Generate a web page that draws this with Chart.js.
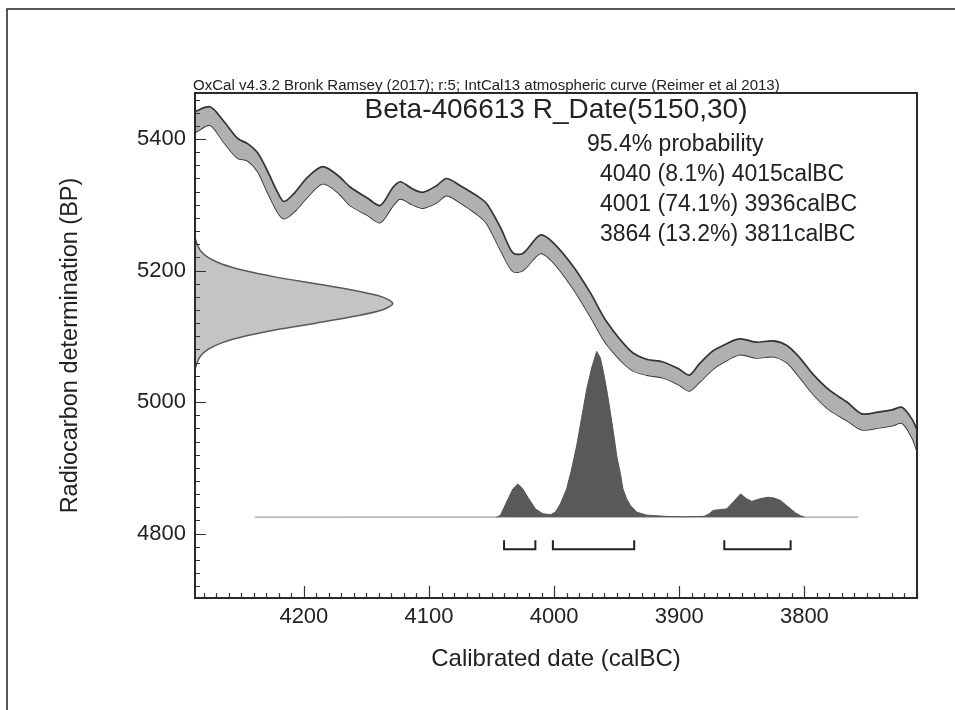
<!DOCTYPE html>
<html>
<head>
<meta charset="utf-8">
<script src="https://cdn.jsdelivr.net/npm/chart.js"></script>
<style>
  html, body { margin: 0; padding: 0; background: #fff; }
  #wrap { width: 955px; height: 710px; }
</style>
</head>
<body>
<div id="wrap"><canvas id="oxcal"></canvas></div>
<script>
// axes
const xMin = 3710, xMax = 4287;
const yMin = 4702, yMax = 5470;
const xTicks = [4200, 4100, 4000, 3900, 3800];
const yTicks = [5400, 5200, 5000, 4800];

// IntCal13 curve (calBC, BP, 1 sigma)
const curveYear = [4287, 4275, 4264, 4253, 4245, 4237, 4229, 4221, 4216, 4208, 4197, 4185, 4173, 4163, 4149, 4139, 4129, 4123, 4113, 4105, 4094, 4086, 4075, 4062, 4054, 4043, 4033, 4025, 4011, 4001, 3985, 3971, 3958, 3939, 3926, 3913, 3900, 3892, 3884, 3873, 3865, 3852, 3838, 3825, 3814, 3804, 3793, 3780, 3766, 3754, 3740, 3730, 3722, 3714, 3710];
const curveBP   = [5426, 5435, 5411, 5386, 5380, 5365, 5335, 5304, 5292, 5303, 5327, 5345, 5332, 5313, 5297, 5286, 5312, 5322, 5312, 5307, 5316, 5327, 5316, 5300, 5287, 5249, 5213, 5213, 5240, 5228, 5190, 5148, 5105, 5064, 5053, 5049, 5038, 5029, 5044, 5064, 5073, 5084, 5079, 5081, 5073, 5053, 5027, 5003, 4986, 4970, 4973, 4976, 4980, 4960, 4942];
const curveErr  = [16, 14, 16, 15, 13, 14, 16, 15, 13, 14, 15, 13, 13, 14, 13, 13, 14, 13, 12, 12, 13, 13, 13, 14, 15, 17, 14, 13, 14, 15, 17, 18, 17, 14, 12, 12, 12, 12, 14, 14, 13, 12, 12, 12, 13, 15, 15, 15, 14, 12, 12, 12, 12, 14, 16];

// R_Date(5150,30) on the y axis
const rdBP   = [5250, 5240, 5230, 5220, 5210, 5200, 5190, 5180, 5170, 5160, 5150, 5140, 5130, 5120, 5110, 5100, 5090, 5080, 5070, 5060, 5050];
const rdProb = [0, 0.011, 0.028, 0.066, 0.135, 0.25, 0.41, 0.61, 0.80, 0.946, 1, 0.946, 0.80, 0.61, 0.41, 0.25, 0.135, 0.066, 0.028, 0.011, 0];

// calibrated distribution
const calYear = [4046, 4043, 4038, 4033, 4029, 4025, 4021, 4015, 4009, 4003, 3999, 3995, 3990, 3986, 3982, 3978, 3974, 3970, 3966, 3963, 3961, 3958, 3955, 3952, 3950, 3947, 3945, 3942, 3939, 3934, 3926, 3918, 3910, 3895, 3880, 3876, 3873, 3868, 3862, 3857, 3851, 3846, 3842, 3836, 3829, 3824, 3819, 3815, 3811, 3807, 3803, 3800];
const calProb = [0, 0.01, 0.09, 0.17, 0.2, 0.17, 0.12, 0.05, 0.02, 0.015, 0.03, 0.08, 0.17, 0.29, 0.43, 0.6, 0.77, 0.9, 1, 0.96, 0.89, 0.77, 0.63, 0.48, 0.37, 0.26, 0.17, 0.11, 0.07, 0.03, 0.012, 0.008, 0.004, 0.002, 0.005, 0.02, 0.04, 0.045, 0.05, 0.09, 0.14, 0.11, 0.095, 0.11, 0.12, 0.115, 0.1, 0.075, 0.05, 0.025, 0.008, 0];

// 95.4% ranges
const rangeFrom = [4040, 4001, 3864];
const rangeTo   = [4015, 3936, 3811];
const rangePct  = [8.1, 74.1, 13.2];

// layout of the drawn curves (BP / year units)
const rdHeight = 158;
const pdfBase = 4825, pdfHeight = 252;
const pdfFrom = 4239, pdfTo = 3757;
const bracketLow = 4776, bracketHigh = 4790;

Chart.defaults.font.family = "'Liberation Sans', Arial, sans-serif";
Chart.defaults.color = '#222';

const datasets = [];

// calibration band: upper fills to lower
datasets.push({
    data: curveYear.map((c, i) => ({ x: c, y: curveBP[i] + curveErr[i] })),
    borderColor: '#333', borderWidth: 1.7, backgroundColor: '#b0b0b0',
    fill: '+1', pointRadius: 0, tension: 0.3
});
datasets.push({
    data: curveYear.map((c, i) => ({ x: c, y: curveBP[i] - curveErr[i] })),
    borderColor: '#333', borderWidth: 1.7, fill: false, pointRadius: 0, tension: 0.3
});

// radiocarbon date on the y axis
datasets.push({
    data: rdBP.map((b, i) => ({ x: xMax - rdProb[i] * rdHeight, y: b })),
    borderColor: '#5a5a5a', borderWidth: 1.5, backgroundColor: '#c4c4c4',
    fill: 'shape', pointRadius: 0, tension: 0.3
});

// calibrated distribution
datasets.push({
    data: calYear.map((c, i) => ({ x: c, y: pdfBase + calProb[i] * pdfHeight })),
    borderColor: '#555', borderWidth: 1, backgroundColor: '#595959',
    fill: { value: pdfBase }, pointRadius: 0, tension: 0
});
datasets.push({
    data: [{ x: pdfFrom, y: pdfBase }, { x: pdfTo, y: pdfBase }],
    borderColor: '#8a8a8a', borderWidth: 1, fill: false, pointRadius: 0
});

// range brackets
rangeFrom.forEach((f, i) => {
    datasets.push({
        data: [
            { x: f, y: bracketHigh }, { x: f, y: bracketLow },
            { x: rangeTo[i], y: bracketLow }, { x: rangeTo[i], y: bracketHigh }
        ],
        borderColor: '#222', borderWidth: 2, fill: false, pointRadius: 0
    });
});

// ticks inside the frame, box, outer border and texts
const oxcalDecor = {
    id: 'oxcalDecor',
    beforeDraw(chart) {
        const { ctx, width, height } = chart;
        ctx.save();
        ctx.fillStyle = '#fff';
        ctx.fillRect(0, 0, width, height);
        ctx.restore();
    },
    afterDraw(chart) {
        const { ctx, chartArea: a, scales: { x, y } } = chart;
        ctx.save();

        ctx.strokeStyle = '#333';
        ctx.lineWidth = 1.2;
        ctx.beginPath();
        for (let v = Math.ceil(yMin / 20) * 20; v <= yMax; v += 20) {
            const py = Math.round(y.getPixelForValue(v)) + 0.5;
            const len = v % 200 === 0 ? 11 : 5;
            ctx.moveTo(a.left, py); ctx.lineTo(a.left + len, py);
        }
        for (let v = Math.ceil(xMin / 10) * 10; v <= xMax; v += 10) {
            const px = Math.round(x.getPixelForValue(v)) + 0.5;
            const len = v % 100 === 0 ? 12 : 5;
            ctx.moveTo(px, a.bottom); ctx.lineTo(px, a.bottom - len);
        }
        ctx.stroke();

        ctx.strokeStyle = '#2a2a2a';
        ctx.lineWidth = 2;
        ctx.strokeRect(a.left, a.top, a.right - a.left, a.bottom - a.top);

        // outer frame
        ctx.strokeStyle = '#222';
        ctx.lineWidth = 1.5;
        ctx.beginPath();
        ctx.moveTo(7, 710); ctx.lineTo(7, 9); ctx.lineTo(955, 9);
        ctx.stroke();

        ctx.fillStyle = '#222';
        ctx.textBaseline = 'alphabetic';

        const credit = 'OxCal v4.3.2 Bronk Ramsey (2017); r:5; IntCal13 atmospheric curve (Reimer et al 2013)';
        ctx.font = "13px 'Liberation Sans', Arial, sans-serif";
        const size = 13 * 587 / ctx.measureText(credit).width;
        ctx.font = size.toFixed(2) + "px 'Liberation Sans', Arial, sans-serif";
        ctx.textAlign = 'left';
        ctx.fillText(credit, 193, 90);

        ctx.font = "28px 'Liberation Sans', Arial, sans-serif";
        ctx.textAlign = 'center';
        ctx.fillText('Beta-406613 R_Date(5150,30)', (a.left + a.right) / 2, 118);

        ctx.font = "23px 'Liberation Sans', Arial, sans-serif";
        ctx.textAlign = 'left';
        ctx.fillText('95.4% probability', 587, 151);
        rangeFrom.forEach((f, i) => {
            ctx.fillText(f + ' (' + rangePct[i] + '%) ' + rangeTo[i] + 'calBC', 600, 181 + i * 30);
        });

        ctx.restore();
    }
};

new Chart(document.getElementById('oxcal'), {
    type: 'line',
    data: { datasets },
    options: {
        responsive: true,
        maintainAspectRatio: false,
        animation: false,
        events: [],
        layout: { padding: { top: 93, right: 38, left: 0, bottom: 0 } },
        plugins: {
            legend: { display: false },
            tooltip: { enabled: false }
        },
        scales: {
            x: {
                type: 'linear', reverse: true, min: xMin, max: xMax,
                afterBuildTicks: s => { s.ticks = xTicks.map(v => ({ value: v })); },
                afterFit: s => { s.height = 112; },
                grid: { display: false, drawTicks: false },
                border: { display: false },
                ticks: { padding: 6, autoSkip: false, maxRotation: 0, font: { size: 22 }, callback: v => String(v) },
                title: { display: true, text: 'Calibrated date (calBC)', font: { size: 24 }, padding: { top: 0, bottom: 36 } }
            },
            y: {
                type: 'linear', min: yMin, max: yMax,
                afterBuildTicks: s => { s.ticks = yTicks.map(v => ({ value: v })); },
                afterFit: s => { s.width = 195; },
                grid: { display: false, drawTicks: false },
                border: { display: false },
                ticks: { padding: 9, font: { size: 22 }, callback: v => String(v) },
                title: { display: true, text: 'Radiocarbon determination (BP)', font: { size: 23.5 }, padding: { top: 56, bottom: 0 } }
            }
        }
    },
    plugins: [oxcalDecor]
});
</script>
</body>
</html>
